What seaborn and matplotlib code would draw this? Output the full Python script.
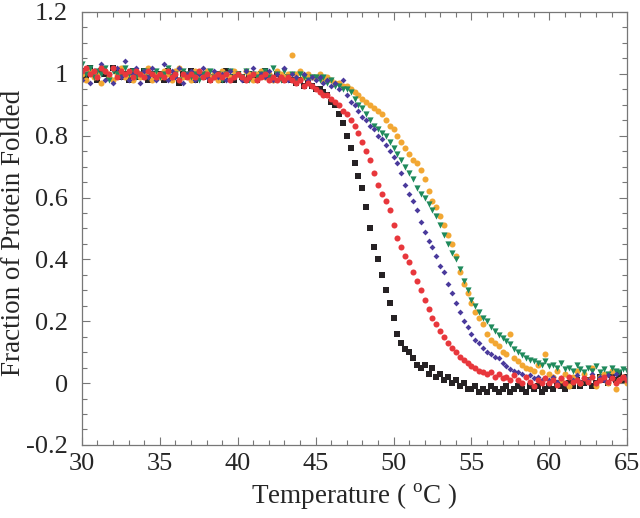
"""
Thermal unfolding curves: fraction of protein folded vs temperature
"""
import numpy as np
import pandas as pd
import seaborn as sns
import matplotlib
matplotlib.use("Agg")
import matplotlib.pyplot as plt
from matplotlib.ticker import MultipleLocator, FormatStrFormatter

# ========== data (0.25 C steps) ==========
temperature = np.arange(30, 65.01, 0.25)

black = [
    1.01, 0.99, 1.02, 1.00, 0.98, 1.01, 1.00, 0.99, 1.02, 1.01, 0.99, 1.00, 0.98, 1.01, 1.00, 0.99, 1.01, 0.98, 1.00, 0.99,
    1.00, 0.98, 1.01, 0.99, 1.00, 0.97, 1.00, 0.99, 1.01, 0.98, 1.00, 0.99, 1.00, 0.98, 0.99, 1.00, 0.98, 1.01, 0.99, 0.98,
    1.00, 0.99, 0.98, 1.00, 0.99, 0.98, 1.00, 1.01, 0.99, 0.98, 1.00, 0.99, 0.98, 0.99, 0.98, 0.97, 0.98, 0.96, 0.97, 0.96,
    0.95, 0.95, 0.94, 0.93, 0.91, 0.90, 0.87, 0.84, 0.80, 0.76, 0.71, 0.67, 0.63, 0.57, 0.50, 0.44, 0.40, 0.35, 0.30, 0.26,
    0.21, 0.16, 0.13, 0.11, 0.10, 0.08, 0.06, 0.05, 0.06, 0.03, 0.05, 0.02, 0.03, 0.01, 0.02, 0.00, 0.01, -0.01, 0.00, -0.02,
    -0.02, -0.01, -0.03, -0.02, -0.03, -0.01, -0.02, -0.03, -0.02, -0.01, -0.03, -0.02, -0.01, -0.02, -0.03, -0.01, -0.02, -0.01, -0.03, -0.02,
    -0.01, -0.02, 0.00, -0.01, -0.02, 0.00, -0.01, 0.01, -0.01, 0.00, 0.01, -0.01, 0.00, 0.02, 0.01, 0.00, 0.02, 0.01, 0.03, 0.01,
    0.02,
]

red = [
    1.01, 1.02, 1.00, 1.01, 0.99, 1.02, 1.01, 1.00, 1.02, 0.99, 1.01, 1.00, 1.01, 0.99, 1.01, 1.00, 0.99, 1.01, 1.00, 0.99,
    1.00, 0.99, 1.01, 0.99, 1.00, 0.98, 1.00, 0.99, 1.00, 0.99, 1.01, 0.99, 1.00, 0.98, 0.99, 1.00, 0.99, 1.00, 0.98, 0.99,
    1.00, 0.99, 0.98, 0.99, 1.00, 0.98, 0.99, 1.00, 0.98, 0.99, 0.98, 0.99, 0.98, 0.99, 0.98, 0.97, 0.98, 0.96, 0.97, 0.96,
    0.95, 0.94, 0.93, 0.93, 0.92, 0.91, 0.90, 0.88, 0.87, 0.85, 0.83, 0.81, 0.78, 0.75, 0.72, 0.68, 0.64, 0.61, 0.59, 0.56,
    0.51, 0.47, 0.44, 0.41, 0.39, 0.36, 0.33, 0.30, 0.27, 0.24, 0.21, 0.19, 0.17, 0.15, 0.13, 0.115, 0.10, 0.085, 0.075, 0.065,
    0.055, 0.05, 0.04, 0.035, 0.03, 0.035, 0.02, 0.03, 0.015, 0.02, 0.01, 0.025, 0.01, 0.00, 0.02, 0.005, -0.01, 0.01, 0.00, 0.015,
    0.00, 0.01, -0.005, 0.015, 0.00, 0.02, 0.005, 0.01, 0.00, 0.015, 0.005, 0.02, 0.00, 0.01, 0.02, 0.005, 0.015, 0.00, 0.01, 0.02,
    0.01,
]

blue = [
    0.98, 1.02, 0.97, 1.01, 0.99, 1.03, 0.98, 1.00, 0.97, 1.02, 0.99, 1.04, 0.98, 1.00, 1.02, 0.97, 1.01, 0.99, 1.02, 0.98,
    1.00, 1.03, 0.98, 1.01, 0.99, 1.02, 0.97, 1.00, 1.01, 0.98, 1.00, 1.02, 0.99, 0.98, 1.01, 0.99, 1.00, 0.98, 1.01, 0.99,
    1.00, 0.98, 1.01, 0.99, 1.02, 0.98, 1.00, 0.99, 1.01, 0.98, 1.00, 0.99, 1.02, 0.98, 1.00, 0.99, 0.98, 1.00, 0.98, 0.99,
    0.98, 0.99, 0.97, 0.98, 0.96, 0.97, 0.95, 0.98, 0.93, 0.91, 0.90, 0.88, 0.86, 0.85, 0.83, 0.82, 0.80, 0.79, 0.77, 0.75,
    0.73, 0.71, 0.68, 0.64, 0.61, 0.59, 0.56, 0.52, 0.49, 0.46, 0.44, 0.41, 0.38, 0.36, 0.32, 0.29, 0.26, 0.23, 0.20, 0.18,
    0.16, 0.14, 0.13, 0.115, 0.10, 0.095, 0.085, 0.08, 0.065, 0.055, 0.045, 0.04, 0.035, 0.03, 0.02, 0.025, 0.015, 0.02, 0.01, 0.015,
    0.01, 0.02, 0.005, 0.015, 0.00, 0.02, 0.01, 0.025, 0.005, 0.015, 0.01, 0.03, 0.00, 0.02, 0.01, 0.025, 0.015, 0.03, 0.01, 0.02,
    0.02,
]

green = [
    1.03, 1.00, 1.02, 0.99, 1.01, 1.00, 1.02, 0.98, 1.01, 1.00, 0.99, 1.02, 1.00, 1.01, 0.99, 1.00, 1.01, 0.99, 1.00, 1.01,
    0.99, 1.00, 1.02, 0.99, 1.00, 0.98, 1.01, 1.00, 0.99, 1.00, 0.98, 1.00, 0.99, 1.01, 0.99, 1.00, 0.98, 1.00, 1.01, 0.99,
    1.00, 0.99, 1.01, 0.98, 1.00, 0.99, 1.00, 1.01, 0.99, 1.02, 1.00, 0.98, 1.01, 0.99, 1.00, 0.98, 1.00, 0.99, 0.98, 0.99,
    0.99, 0.98, 0.99, 0.97, 0.98, 0.96, 0.96, 0.95, 0.95, 0.94, 0.92, 0.90, 0.89, 0.87, 0.85, 0.83, 0.82, 0.81, 0.80, 0.78,
    0.76, 0.74, 0.72, 0.70, 0.68, 0.66, 0.63, 0.61, 0.60, 0.58, 0.56, 0.54, 0.51, 0.48, 0.45, 0.42, 0.40, 0.37, 0.33, 0.30,
    0.27, 0.25, 0.23, 0.21, 0.20, 0.18, 0.17, 0.155, 0.145, 0.135, 0.125, 0.11, 0.10, 0.09, 0.08, 0.075, 0.07, 0.065, 0.06, 0.07,
    0.055, 0.06, 0.05, 0.065, 0.045, 0.05, 0.04, 0.06, 0.045, 0.035, 0.05, 0.04, 0.055, 0.035, 0.045, 0.03, 0.05, 0.04, 0.035, 0.045,
    0.04,
]

orange = [
    1.00, 0.98, 1.01, 0.99, 1.00, 0.97, 1.01, 0.99, 0.98, 1.00, 1.02, 0.99, 1.00, 0.98, 1.01, 0.99, 1.00, 1.02, 0.98, 1.00,
    0.99, 1.01, 1.00, 0.98, 1.01, 1.02, 0.99, 1.00, 0.98, 1.01, 0.99, 1.00, 1.01, 0.99, 1.00, 0.98, 1.01, 1.00, 0.99, 1.01,
    1.00, 0.99, 1.01, 1.00, 0.98, 1.00, 1.01, 0.99, 1.00, 0.98, 1.01, 1.00, 0.99, 1.00, 1.06, 1.00, 1.01, 0.99, 1.00, 0.99,
    0.99, 1.00, 0.98, 0.99, 0.98, 0.97, 0.97, 0.96, 0.96, 0.95, 0.94, 0.93, 0.92, 0.91, 0.90, 0.89, 0.88, 0.87, 0.85, 0.83,
    0.82, 0.80, 0.78, 0.76, 0.74, 0.72, 0.71, 0.69, 0.66, 0.62, 0.59, 0.57, 0.54, 0.51, 0.48, 0.45, 0.41, 0.36, 0.32, 0.29,
    0.26, 0.23, 0.21, 0.19, 0.16, 0.14, 0.13, 0.12, 0.10, 0.095, 0.16, 0.08, 0.07, 0.06, 0.05, 0.045, 0.04, 0.06, 0.035, 0.095,
    0.03, 0.02, 0.04, 0.01, 0.03, -0.01, 0.02, 0.04, 0.00, 0.03, 0.01, 0.05, -0.01, 0.02, 0.03, 0.00, 0.04, -0.02, 0.01, 0.02,
    0.00,
]

# draw order = layering order
series = {"black": black, "orange": orange, "green": green, "blue": blue, "red": red}
colors = {"black": "#262224", "orange": "#f2a733", "green": "#1f8a5c",
          "blue": "#4a3a9c", "red": "#e8373c"}
markers = {"black": "s", "orange": "o", "green": "v", "blue": "D", "red": "o"}
sizes = {"black": 14, "orange": 19, "green": 20, "blue": 9, "red": 19}

df = pd.concat(
    [pd.DataFrame({"T": temperature, "f": vals, "s": name}) for name, vals in series.items()],
    ignore_index=True,
)

# ========== plot ==========
sns.set_style("ticks")
plt.rcParams['font.family'] = ['Liberation Serif']
plt.rcParams['mathtext.fontset'] = 'custom'
plt.rcParams['mathtext.rm'] = 'Liberation Serif'
plt.rcParams['axes.unicode_minus'] = False

fig = plt.figure(figsize=(6.4, 5.18), dpi=100)
ax = fig.add_axes([0.128, 0.141, 0.852, 0.836])

for name in series:
    sub = df[df["s"] == name]
    sns.scatterplot(data=sub, x="T", y="f", color=colors[name], marker=markers[name],
                    s=sizes[name], linewidth=0, ax=ax, legend=False)

ax.set_xlim(30, 65)
ax.set_ylim(-0.2, 1.2)
ax.xaxis.set_major_locator(MultipleLocator(5))
ax.xaxis.set_minor_locator(MultipleLocator(1))
ax.yaxis.set_major_locator(MultipleLocator(0.2))
ax.yaxis.set_minor_locator(MultipleLocator(0.05))
ax.yaxis.set_major_formatter(FormatStrFormatter('%g'))

ax.tick_params(which='both', direction='in', top=True, right=True, color='#777777',
               labelsize=19)
ax.tick_params(axis='x', which='major', pad=6)
ax.tick_params(axis='y', which='major', pad=10)
ax.tick_params(which='major', length=6, width=0.8)
ax.tick_params(which='minor', length=3.5, width=0.8)
for sp in ax.spines.values():
    sp.set_visible(True)
    sp.set_color('#777777')
    sp.set_linewidth(0.9)

ax.set_xlabel(r'Temperature ( $^{\mathrm{o}}$C )', fontsize=19.5, labelpad=4)
ax.set_ylabel('Fraction of Protein Folded', fontsize=19.5)
ax.yaxis.set_label_coords(-0.103, 0.49)

fig.savefig("out.png", dpi=100)
